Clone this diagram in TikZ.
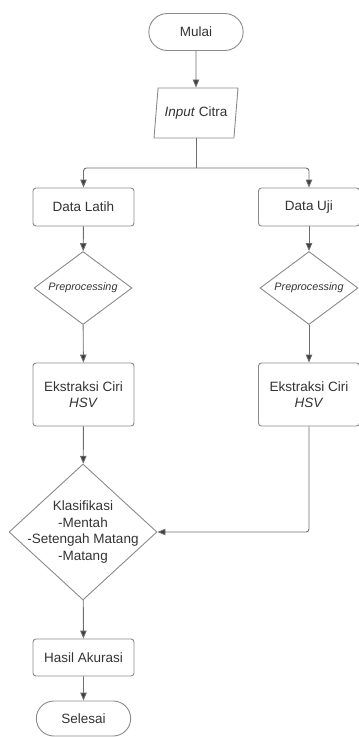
\documentclass[tikz,border=0pt]{standalone}
\usepackage{fontspec}
\setmainfont{Liberation Sans}
\usetikzlibrary{positioning,arrows.meta,shapes.geometric,shapes.misc}
\definecolor{linegray}{HTML}{6E6E6E}
\definecolor{boxgray}{HTML}{8A8A8A}
\definecolor{tipgray}{HTML}{3A3D45}
\definecolor{textgray}{HTML}{333333}

\begin{document}
\begin{tikzpicture}[x=1pt, y=-1pt, font=\fontsize{13.5}{16}\selectfont, text=textgray,
        terminal/.style={rounded rectangle, draw=boxgray, line width=0.9pt, minimum width=101pt, minimum height=37pt},
        io/.style={trapezium, trapezium left angle=72, trapezium right angle=108, trapezium stretches body,
          draw=boxgray, line width=0.9pt, minimum width=84pt, minimum height=50pt, inner sep=0pt},
        process/.style={rectangle, rounded corners=3pt, draw=boxgray, line width=0.9pt, minimum width=101pt,
          minimum height=38pt, align=center},
        decision/.style={diamond, draw=boxgray, line width=0.9pt, inner sep=0pt, aspect=1.34,
          font=\fontsize{10.8}{13}\selectfont\itshape},
        line/.style={draw=linegray, line width=0.9pt},
        arrow/.style={line, -{Triangle[length=8pt, width=6.5pt, fill=tipgray]}}]
        \useasboundingbox (0,0) rectangle (359,737);
        \node[terminal] (mulai) at (196, 32) {Mulai};
        \node[io] (input) at (196, 113) {\textit{Input} Citra};
        \coordinate (split) at (196, 168);
        \node[process] (latih) at (83.5, 207) {Data Latih};
        \node[process] (uji) at (309, 207) {Data Uji};
        \node[decision, minimum width=98pt, minimum height=73pt] (prelatih) at (83, 288) {Preprocessing};
        \node[decision, minimum width=98pt, minimum height=73pt] (preuji) at (309, 288) {Preprocessing};
        \node[process, minimum height=63pt] (ciriLatih) at (83.5, 394.5) {Ekstraksi Ciri\\\textit{HSV}};
        \node[process, minimum height=63pt] (ciriUji) at (309, 394.5) {Ekstraksi Ciri\\\textit{HSV}};
        \node[decision, minimum width=148pt, minimum height=136pt,
          label={[align=center, text=textgray, font=\fontsize{13.5}{16.5}\selectfont]center:Klasifikasi\\-Mentah\\-Setengah Matang\\-Matang}]
          (klasifikasi) at (83, 532) {};
        \node[process, minimum height=37pt] (hasil) at (83.5, 657.5) {Hasil Akurasi};
        \node[terminal, minimum height=35pt] (selesai) at (83.5, 718.5) {Selesai};

        \draw[arrow] (mulai) to (input);
        \draw[line] (input) to (split);
        \draw[arrow, rounded corners=3pt] (split) -| (latih);
        \draw[arrow, rounded corners=3pt] (split) -| (uji);
        \draw[arrow] (latih) to (prelatih);
        \draw[arrow] (uji) to (preuji);
        \draw[arrow] (prelatih) to (ciriLatih);
        \draw[arrow] (preuji) to (ciriUji);
        \draw[arrow] (ciriLatih) to (klasifikasi);
        \draw[arrow, rounded corners=3pt] (ciriUji) |- (klasifikasi);
        \draw[arrow] (klasifikasi) to (hasil);
        \draw[arrow] (hasil) to (selesai);
      \end{tikzpicture}
\end{document}
